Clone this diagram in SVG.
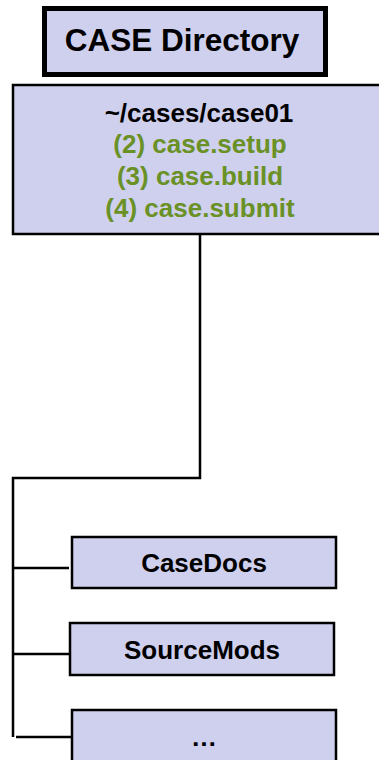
<svg xmlns="http://www.w3.org/2000/svg" width="379" height="760" viewBox="0 0 379 760">
  <style>
    .box { fill: #cfcfee; stroke: #000; stroke-width: 2.5; }
    .title { fill: #cfcfee; stroke: #000; stroke-width: 5; }
    .lbl { font-family: "Liberation Sans", Arial, sans-serif; font-weight: bold; text-anchor: middle; fill: #000; }
    .green { fill: #6a9126; }
    .wire { fill: none; stroke: #000; stroke-width: 2.5; }
  </style>
  <rect width="379" height="760" fill="#fff"/>

  <g id="connectors">
    <polyline class="wire" points="200,234 200,478 13,478 13,737"/>
    <line class="wire" x1="13" y1="568" x2="69" y2="568"/>
    <line class="wire" x1="13" y1="654" x2="69" y2="654"/>
    <line class="wire" x1="16" y1="737" x2="71" y2="737"/>
  </g>

  <g id="title">
    <rect class="title" x="44.5" y="8.5" width="281" height="66"/>
    <text class="lbl" x="182" y="51" font-size="31.5">CASE Directory</text>
  </g>

  <g id="case01">
    <rect class="box" x="13" y="85" width="377" height="149"/>
    <text class="lbl" x="199" y="122" font-size="26">~/cases/case01</text>
    <text class="lbl green" x="200" y="153" font-size="26">(2) case.setup</text>
    <text class="lbl green" x="200" y="185" font-size="26">(3) case.build</text>
    <text class="lbl green" x="200" y="217" font-size="26">(4) case.submit</text>
  </g>

  <g id="casedocs">
    <rect class="box" x="72" y="537" width="264" height="51"/>
    <text class="lbl" x="204" y="572" font-size="26">CaseDocs</text>
  </g>

  <g id="sourcemods">
    <rect class="box" x="70" y="623" width="264" height="52"/>
    <text class="lbl" x="202" y="659" font-size="26">SourceMods</text>
  </g>

  <g id="more">
    <rect class="box" x="72" y="710" width="264" height="60"/>
    <text class="lbl" x="204" y="746" font-size="26">…</text>
  </g>
</svg>
